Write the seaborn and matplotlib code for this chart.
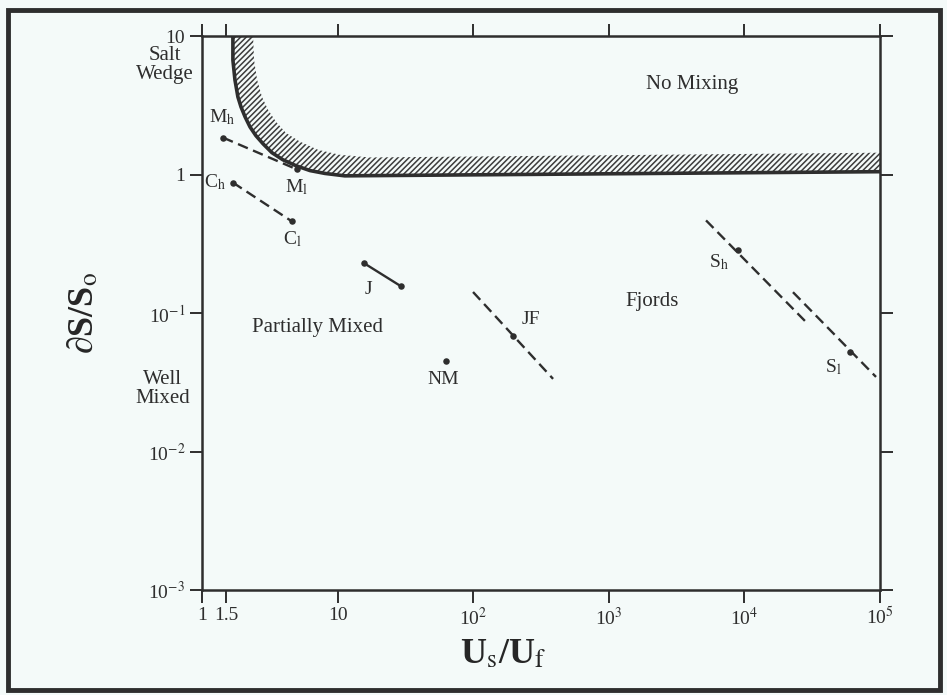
import numpy as np
import pandas as pd
import seaborn as sns
import matplotlib.pyplot as plt
from matplotlib.patches import Rectangle

# hatched "no mixing" boundary (outer dark edge and inner edge)
edge_lo_x = [1.69, 1.69, 1.75, 1.84, 1.94, 2.08, 2.26, 2.50, 2.82, 3.28, 3.95, 4.93, 6.25, 8.07, 11.3, 1e5]
edge_lo_y = [10.0, 6.72, 4.83, 3.64, 3.08, 2.61, 2.21, 1.91, 1.67, 1.44, 1.28, 1.16, 1.07, 1.02, 0.98, 1.05]
edge_hi_x = [2.38, 2.42, 2.55, 2.77, 3.07, 3.51, 4.16, 5.28, 7.17, 10.4, 17.3, 1e5]
edge_hi_y = [10.0, 6.72, 4.83, 3.64, 2.94, 2.41, 2.00, 1.73, 1.51, 1.39, 1.33, 1.44]

# estuary segments (high / low flow)
seg_names = ["M", "C", "J", "JF", "S1", "S2"]
seg_x = [[1.43, 5.02], [1.69, 4.61], [15.7, 29.4], [99.7, 388], [5210, 28000], [22800, 93400]]
seg_y = [[1.85, 1.09], [0.876, 0.459], [0.229, 0.156], [0.142, 0.0335], [0.467, 0.0876], [0.1416, 0.0346]]

# observed points
pt_x = [1.43, 5.02, 1.69, 4.61, 15.7, 29.4, 196, 63, 8970, 60100]
pt_y = [1.85, 1.09, 0.876, 0.459, 0.229, 0.156, 0.0684, 0.0451, 0.284, 0.0524]

lab_text = ["M$_{\\rm h}$", "M$_{\\rm l}$", "C$_{\\rm h}$", "C$_{\\rm l}$", "J", "JF", "NM", "S$_{\\rm h}$", "S$_{\\rm l}$"]
lab_x = [1.40, 5.02, 1.25, 4.61, 17.0, 267, 59.9, 6500, 45000]
lab_y = [2.61, 0.806, 0.876, 0.340, 0.149, 0.0905, 0.033, 0.233, 0.0409]

region_text = ["No Mixing", "Fjords", "Partially Mixed", "Well\nMixed", "Salt\nWedge"]
region_x = [4110, 2090, 7.05, 0.515, 0.53]
region_y = [4.44, 0.122, 0.079, 0.0284, 6.19]

xticks = [1, 1.5, 10, 1e2, 1e3, 1e4, 1e5]
xtick_labels = ["1", "1.5", "10", "10$^2$", "10$^3$", "10$^4$", "10$^5$"]
yticks = [1e-3, 1e-2, 1e-1, 1, 10]
ytick_labels = ["10$^{-3}$", "10$^{-2}$", "10$^{-1}$", "1", "10"]

ink = "#2e2e2e"
paper = "#f4faf9"

sns.set_theme(style="ticks")
plt.rcParams["font.family"] = ["Liberation Serif", "DejaVu Serif"]
plt.rcParams["mathtext.fontset"] = "stix"
plt.rcParams["hatch.linewidth"] = 1.1
plt.rcParams["axes.edgecolor"] = ink
plt.rcParams["text.color"] = ink

fig = plt.figure(figsize=(9.47, 6.95), dpi=100, facecolor=paper)
ax = fig.add_axes([0.2133, 0.151, 0.716, 0.797], facecolor=paper)
ax.set(xscale="log", yscale="log", xlim=(1, 1e5), ylim=(1e-3, 10))

# hatched band
band_x = edge_lo_x + edge_hi_x[::-1]
band_y = edge_lo_y + edge_hi_y[::-1]
ax.fill(band_x, band_y, facecolor="none", edgecolor="#3c3c3c", hatch="//////", linewidth=0)
sns.lineplot(x=edge_lo_x, y=edge_lo_y, ax=ax, color=ink, lw=2.6, sort=False, estimator=None)

solid_segments = ["J"]
for name, xs, ys in zip(seg_names, seg_x, seg_y):
    ls = "-" if name in solid_segments else (0, (4.5, 2.4))
    sns.lineplot(x=xs, y=ys, ax=ax, color=ink, lw=1.7, linestyle=ls, estimator=None)

sns.scatterplot(x=pt_x, y=pt_y, ax=ax, color=ink, s=22, edgecolor=ink, linewidth=0, zorder=5)

for t, x, y in zip(lab_text, lab_x, lab_y):
    ax.text(x, y, t, ha="center", va="center", fontsize=14)
for t, x, y in zip(region_text, region_x, region_y):
    ax.text(x, y, t, ha="center", va="center", fontsize=15, multialignment="center",
            linespacing=1.0, clip_on=False)

ax.set_xticks(xticks)
ax.set_xticklabels(xtick_labels)
ax.set_yticks(yticks)
ax.set_yticklabels(ytick_labels)
ax.minorticks_off()
ax.tick_params(which="major", direction="out", length=9, width=1.4, color=ink,
               labelsize=14, labelcolor=ink, top=True, right=True, pad=3)
for sp in ax.spines.values():
    sp.set_linewidth(1.8)
    sp.set_color(ink)

ax.set_xlabel("U$_{\\rm s}$/U$_{\\rm f}$", fontsize=26, fontweight="bold")
ax.set_ylabel("\u2202S/S$_{\\rm o}$", fontsize=26, fontweight="bold")
ax.xaxis.set_label_coords(0.445, -0.117)
ax.yaxis.set_label_coords(-0.175, 0.5)
ax.xaxis.label.set_va("center")
ax.yaxis.label.set_va("center")

fig.add_artist(Rectangle((0.0084, 0.0072), 0.984, 0.978, transform=fig.transFigure,
                         fill=False, lw=3.5, edgecolor=ink))

fig.savefig("out.png", dpi=100, facecolor=paper)
